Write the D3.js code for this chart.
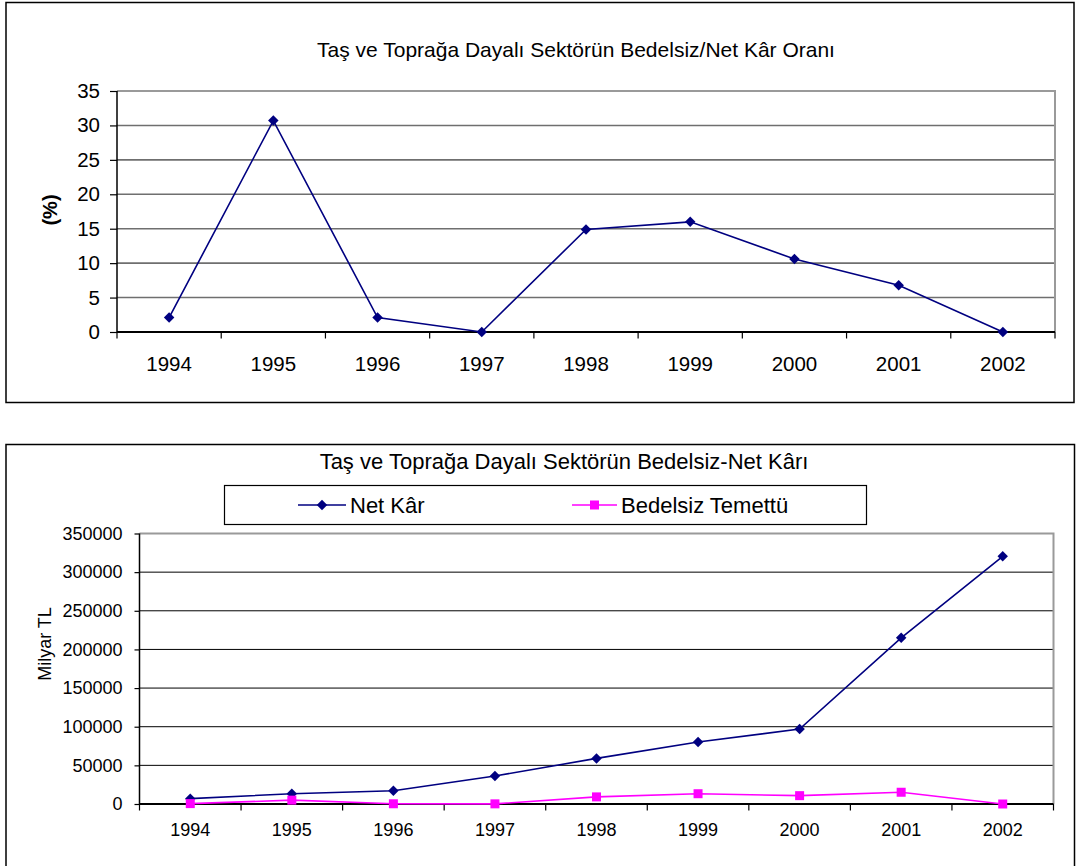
<!DOCTYPE html>
<html>
<head>
<meta charset="utf-8">
<script src="https://cdn.jsdelivr.net/npm/d3@7"></script>
<style>
  html, body { margin: 0; padding: 0; background: #fff; }
  svg { display: block; font-family: "Liberation Sans", Arial, sans-serif; }
</style>
</head>
<body>
<svg id="chart" width="1077" height="866"></svg>
<script>
// Years on the category axis
const years = ["1994", "1995", "1996", "1997", "1998", "1999", "2000", "2001", "2002"];

// Bedelsiz / net kâr ratio (%)
const ratioPct = [2.1, 30.7, 2.1, 0, 14.9, 16.0, 10.6, 6.8, 0];

// Net kâr and bedelsiz temettü (milyar TL)
const netKar = [6900, 13300, 17200, 36200, 59000, 80200, 97000, 215000, 320500];
const bedelsizTemettu = [500, 5000, 300, 200, 9200, 13300, 10800, 15200, 0];

// Value axis ticks
const ratioTicks = [0, 5, 10, 15, 20, 25, 30, 35];
const profitTicks = [0, 50000, 100000, 150000, 200000, 250000, 300000, 350000];

const NAVY = "#000080";
const MAGENTA = "#FF00FF";

const svg = d3.select("#chart");

function frame(x0, y0, x1, y1) {
  svg.append("rect")
    .attr("x", x0).attr("y", y0)
    .attr("width", x1 - x0).attr("height", y1 - y0)
    .attr("fill", "#fff").attr("stroke", "#000").attr("stroke-width", 1.5);
}

// Draws one line panel: grid, axes, category labels
function panel(opts) {
  const { x0, x1, yTop, yBottom, ticks, gridColor, gridWidth, fontSize, tickLen } = opts;
  const x = d3.scaleBand().domain(years).range([x0, x1]).paddingInner(0).paddingOuter(0);
  const y = d3.scaleLinear().domain([0, ticks[ticks.length - 1]]).range([yBottom, yTop]);
  const g = svg.append("g");

  // horizontal gridlines
  g.selectAll("line.grid").data(ticks.slice(1, -1)).enter().append("line")
    .attr("x1", x0).attr("x2", x1)
    .attr("y1", d => y(d)).attr("y2", d => y(d))
    .attr("stroke", gridColor).attr("stroke-width", gridWidth);

  // plot area border (top + right)
  g.append("path")
    .attr("d", `M${x0},${y(ticks[ticks.length - 1])}H${x1}V${yBottom}`)
    .attr("fill", "none").attr("stroke", "#9a9a9a").attr("stroke-width", 2);

  // value axis
  const yAxis = d3.axisLeft(y).tickValues(ticks).tickSize(tickLen).tickPadding(opts.yPad).tickFormat(d3.format("d"));
  const ya = g.append("g").attr("transform", `translate(${x0},0)`).call(yAxis);
  ya.select(".domain").attr("stroke", "#000").attr("stroke-width", 1.5).attr("d", `M0,${yTop}V${yBottom}`);
  ya.selectAll(".tick line").attr("stroke", "#000").attr("stroke-width", 1.2);
  ya.selectAll(".tick text").attr("fill", "#000").attr("font-size", fontSize)
    .attr("font-family", "Liberation Sans, Arial, sans-serif");

  // category axis line with ticks on band boundaries
  g.append("line").attr("x1", x0).attr("x2", x1).attr("y1", yBottom).attr("y2", yBottom)
    .attr("stroke", "#000").attr("stroke-width", 2);
  const bounds = d3.range(years.length + 1).map(i => x0 + i * x.step());
  g.selectAll("line.xt").data(bounds).enter().append("line")
    .attr("x1", d => d).attr("x2", d => d)
    .attr("y1", yBottom).attr("y2", yBottom + 6.5)
    .attr("stroke", "#000").attr("stroke-width", 1.2);
  g.selectAll("text.xl").data(years).enter().append("text")
    .attr("x", d => x(d) + x.bandwidth() / 2)
    .attr("y", opts.xLabelY)
    .attr("text-anchor", "middle").attr("font-size", fontSize).attr("fill", "#000")
    .text(d => d);

  return { x, y, g };
}

function series(p, values, color, shape, size, width) {
  const cx = i => p.x(years[i]) + p.x.bandwidth() / 2;
  const line = d3.line().x((d, i) => cx(i)).y(d => p.y(d));
  p.g.append("path").datum(values).attr("d", line)
    .attr("fill", "none").attr("stroke", color).attr("stroke-width", width);
  p.g.selectAll(null).data(values).enter().append("path")
    .attr("d", d3.symbol(d3.symbolSquare, size)())
    .attr("transform", (d, i) => `translate(${cx(i)},${p.y(d)})` + (shape === "diamond" ? " rotate(45)" : ""))
    .attr("fill", color);
}

// ---------- Upper chart: ratio ----------
frame(6, 2.5, 1074, 402.5);
svg.append("text").attr("x", 576).attr("y", 57).attr("text-anchor", "middle")
  .attr("font-size", 21).attr("fill", "#000")
  .text("Taş ve Toprağa Dayalı Sektörün Bedelsiz/Net Kâr Oranı");
svg.append("text")
  .attr("transform", "translate(57,210) rotate(-90)")
  .attr("text-anchor", "middle").attr("font-size", 20).attr("font-weight", "bold").attr("fill", "#000")
  .text("(%)");

const ratioPanel = panel({
  x0: 117, x1: 1055, yTop: 91, yBottom: 332, ticks: ratioTicks,
  gridColor: "#6f6f6f", gridWidth: 1.6, fontSize: 20.5, tickLen: 7, yPad: 10, xLabelY: 371
});
series(ratioPanel, ratioPct, NAVY, "diamond", 55, 1.6);

// ---------- Lower chart: net kâr and bedelsiz temettü ----------
frame(6, 444.5, 1074.5, 900);
svg.append("text").attr("x", 564).attr("y", 469).attr("text-anchor", "middle")
  .attr("font-size", 22).attr("fill", "#000")
  .text("Taş ve Toprağa Dayalı Sektörün Bedelsiz-Net Kârı");
svg.append("text")
  .attr("transform", "translate(51,644) rotate(-90)")
  .attr("text-anchor", "middle").attr("font-size", 18).attr("fill", "#000")
  .text("Milyar TL");

const profitPanel = panel({
  x0: 139.5, x1: 1053.5, yTop: 533.5, yBottom: 804, ticks: profitTicks,
  gridColor: "#000", gridWidth: 1, fontSize: 18, tickLen: 5, yPad: 12, xLabelY: 836
});
series(profitPanel, netKar, NAVY, "diamond", 55, 1.6);
series(profitPanel, bedelsizTemettu, MAGENTA, "square", 81, 1.6);

// legend
const legendItems = [
  { label: "Net Kâr", color: NAVY, shape: "diamond", size: 55, x1: 298, x2: 346 },
  { label: "Bedelsiz Temettü", color: MAGENTA, shape: "square", size: 81, x1: 572, x2: 617 }
];
svg.append("rect").attr("x", 224.5).attr("y", 485.5).attr("width", 642).attr("height", 39)
  .attr("fill", "#fff").attr("stroke", "#000").attr("stroke-width", 1.2);
const lg = svg.append("g").selectAll("g").data(legendItems).enter().append("g");
lg.append("line").attr("x1", d => d.x1).attr("x2", d => d.x2).attr("y1", 505).attr("y2", 505)
  .attr("stroke", d => d.color).attr("stroke-width", 1.6);
lg.append("path")
  .attr("d", d => d3.symbol(d3.symbolSquare, d.size)())
  .attr("transform", d => `translate(${(d.x1 + d.x2) / 2},505)` + (d.shape === "diamond" ? " rotate(45)" : ""))
  .attr("fill", d => d.color);
lg.append("text").attr("x", d => d.x2 + 4).attr("y", 512.5)
  .attr("font-size", 22).attr("fill", "#000").text(d => d.label);
</script>
</body>
</html>
